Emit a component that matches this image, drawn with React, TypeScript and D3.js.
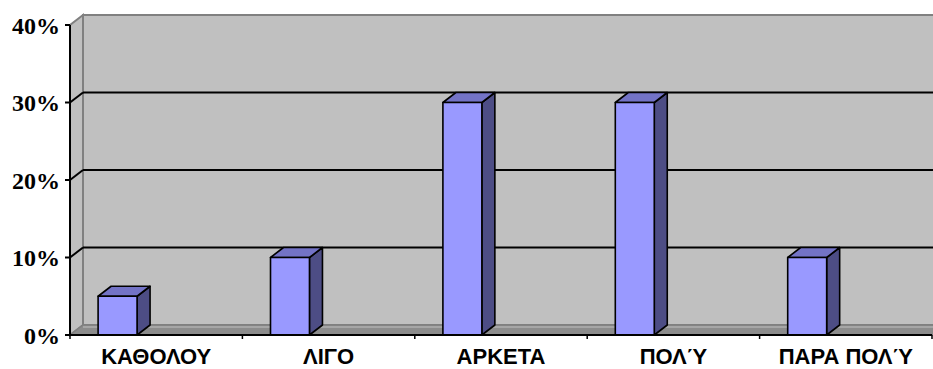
import React from "react";
import * as d3 from "d3";

// Survey answers and their shares
const categories = ["ΚΑΘΟΛΟΥ", "ΛΙΓΟ", "ΑΡΚΕΤΑ", "ΠΟΛΎ", "ΠΑΡΑ ΠΟΛΎ"];
const shares = [0.05, 0.1, 0.3, 0.3, 0.1];
const yTicks = [0, 0.1, 0.2, 0.3, 0.4];

const W = 933;
const H = 369;
const left = 70;
const right = 932;
const bottom = 335;
const top = 25;
const DX = 13; // depth offset to the right
const DY = 10; // depth offset upward

const FRONT = "#9999FF";
const TOPC = "#7373C6";
const SIDE = "#4D4D85";

export default function App() {
  const y = d3.scaleLinear().domain([0, 0.4]).range([bottom, top]);
  const x = d3.scaleBand<string>().domain(categories).range([left, right]).paddingInner(0).paddingOuter(0);
  const bw = x.bandwidth();
  const barOffset = bw * 0.163;
  const barW = bw * 0.226;
  const pct = d3.format(".0%");

  const pts = (a: [number, number][]) => a.map((p) => p.join(",")).join(" ");

  return (
    <svg
      width={W}
      height={H}
      style={{ position: "absolute", left: 0, top: 0, background: "#fff" }}
    >
      {/* back wall */}
      <rect x={left + DX} y={top - DY} width={W} height={bottom - top} fill="#C0C0C0" stroke="#808080" strokeWidth={2} />
      {/* side wall */}
      <polygon
        points={pts([
          [left, top],
          [left + DX, top - DY],
          [left + DX, bottom - DY],
          [left, bottom],
        ])}
        fill="#C0C0C0"
        stroke="#808080"
        strokeWidth={2}
      />
      {/* floor */}
      <polygon
        points={pts([
          [left, bottom],
          [left + DX, bottom - DY],
          [W + 20, bottom - DY],
          [right, bottom],
        ])}
        fill="#8C8C8C"
        stroke="#808080"
        strokeWidth={1.5}
      />
      <line x1={left + DX} x2={W + 20} y1={bottom - DY + 2} y2={bottom - DY + 2} stroke="#A6A6A6" strokeWidth={2} />
      {/* gridlines */}
      {yTicks
        .filter((t) => t > 0 && t < 0.4)
        .map((t) => (
          <g key={t}>
            <line x1={left + DX} x2={W + 20} y1={y(t) - DY} y2={y(t) - DY} stroke="#000" strokeWidth={2} />
            <line x1={left} x2={left + DX} y1={y(t)} y2={y(t) - DY} stroke="#000" strokeWidth={2} />
          </g>
        ))}
      {/* bars */}
      {categories.map((c, i) => {
        const x0 = (x(c) as number) + barOffset;
        const x1 = x0 + barW;
        const yt = y(shares[i]);
        return (
          <g key={c} stroke="#000" strokeWidth={1.6} strokeLinejoin="round">
            <polygon
              points={pts([
                [x1, yt],
                [x1 + DX, yt - DY],
                [x1 + DX, bottom - DY],
                [x1, bottom],
              ])}
              fill={SIDE}
            />
            <polygon
              points={pts([
                [x0, yt],
                [x0 + DX, yt - DY],
                [x1 + DX, yt - DY],
                [x1, yt],
              ])}
              fill={TOPC}
            />
            <rect x={x0} y={yt} width={barW} height={bottom - yt} fill={FRONT} />
          </g>
        );
      })}
      {/* axes */}
      <line x1={left} x2={left} y1={top} y2={bottom + 1} stroke="#000" strokeWidth={2} />
      <line x1={left - 1} x2={right} y1={bottom} y2={bottom} stroke="#000" strokeWidth={2} />
      {yTicks.map((t) => (
        <g key={t}>
          <line x1={left - 5} x2={left} y1={y(t)} y2={y(t)} stroke="#000" strokeWidth={2} />
          <text
            x={left - 10}
            y={y(t) + 8.5}
            textAnchor="end"
            fontFamily="'Liberation Serif', 'Times New Roman', serif"
            fontWeight="bold"
            fontSize={24}
            fill="#000"
          >
            {pct(t)}
          </text>
        </g>
      ))}
      {categories.map((c) => (
        <line key={"t" + c} x1={x(c) as number} x2={x(c) as number} y1={bottom} y2={bottom + 4} stroke="#000" strokeWidth={1.5} />
      ))}
      <line x1={right} x2={right} y1={bottom} y2={bottom + 4} stroke="#000" strokeWidth={1.5} />
      {categories.map((c) => (
        <text
          key={"l" + c}
          x={(x(c) as number) + bw / 2}
          y={364}
          textAnchor="middle"
          fontFamily="'Liberation Sans', Arial, sans-serif"
          fontWeight="bold"
          fontSize={22}
          fill="#000"
        >
          {c}
        </text>
      ))}
    </svg>
  );
}
